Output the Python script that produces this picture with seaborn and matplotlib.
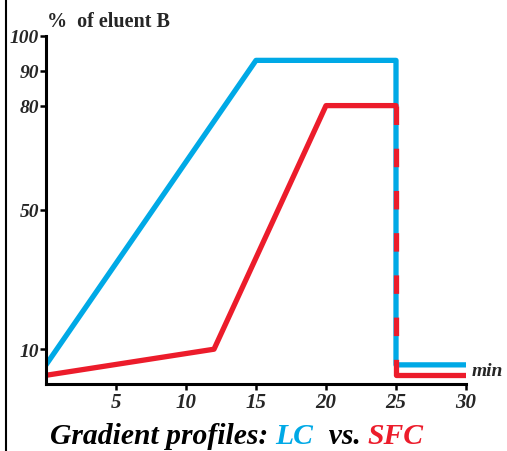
import matplotlib
matplotlib.use("Agg")
import matplotlib.pyplot as plt
import seaborn as sns
import pandas as pd
from matplotlib.lines import Line2D

# Data
lc_time = [0, 15, 25, 25, 30]
lc_b = [5.5, 93, 93, 5.5, 5.5]
sfc_time = [0, 12, 20, 25]
sfc_b = [2.5, 10, 80, 80]
sfc_drop_time = [25, 25]
sfc_drop_b = [80, 2.5]
sfc_tail_time = [25, 30]
sfc_tail_b = [2.5, 2.5]
x_ticks = [5, 10, 15, 20, 25, 30]
y_ticks = [10, 50, 80, 90, 100]

BLUE = "#00A9E6"
RED = "#EC1C2B"

sns.set_theme(style="white")
plt.rcParams['font.family'] = ['Liberation Serif', 'DejaVu Serif']

fig = plt.figure(figsize=(5.07, 4.52), dpi=100)
ax = fig.add_axes([46/507, 1-385/452, (466-46)/507, (385-37)/452])

lw = 3.8
sns.lineplot(x=lc_time, y=lc_b, ax=ax, color=BLUE, lw=lw, sort=False, estimator=None)
sns.lineplot(x=sfc_time, y=sfc_b, ax=ax, color=RED, lw=lw, sort=False, estimator=None)
sns.lineplot(x=sfc_tail_time, y=sfc_tail_b, ax=ax, color=RED, lw=lw, sort=False, estimator=None)
ax.plot(sfc_drop_time, sfc_drop_b, color=RED, lw=lw, dashes=(3.5, 4.5), dash_capstyle='butt')

ax.set_xlim(0, 30)
ax.set_ylim(0, 100)
ax.set_xticks(x_ticks)
ax.set_yticks(y_ticks)
ax.set_xticklabels([str(v) for v in x_ticks], fontsize=15, fontweight='bold', fontstyle='italic')
ax.set_yticklabels([str(v) for v in y_ticks], fontsize=14, fontweight='bold', fontstyle='italic')
for s in ['top', 'right']:
    ax.spines[s].set_visible(False)
for s in ['left', 'bottom']:
    ax.spines[s].set_linewidth(2.2)
    ax.spines[s].set_color('black')
ax.tick_params(axis='both', which='both', direction='out', length=4, width=1.8, color='black', pad=1,
               left=True, bottom=True)
ax.tick_params(axis='x', pad=2)
ax.set_xlabel('')
ax.set_ylabel('')
ax.set_facecolor('white')

fig.text(47/507, 1-22/452, "%  of eluent B", fontsize=14.5, fontweight='bold', va='center', ha='left')
fig.text(472/507, 1-372/452, "min", fontsize=14, fontweight='bold', fontstyle='italic', va='center', ha='left')

# Title with coloured parts
fig.canvas.draw()
renderer = fig.canvas.get_renderer()
parts = [("Gradient profiles: ", 'black'), ("LC", BLUE), ("  vs. ", 'black'), ("SFC", RED)]
x = 50
for txt, c in parts:
    t = fig.text(x/507, 1-437/452, txt, fontsize=21.3, fontweight='bold', fontstyle='italic', color=c,
                 va='center', ha='left')
    bb = t.get_window_extent(renderer=renderer)
    x = bb.x1

fig.add_artist(Line2D([6/507, 6/507], [0, 1], color='black', lw=1.5, transform=fig.transFigure))

fig.savefig("out.png", dpi=100, facecolor='white')
